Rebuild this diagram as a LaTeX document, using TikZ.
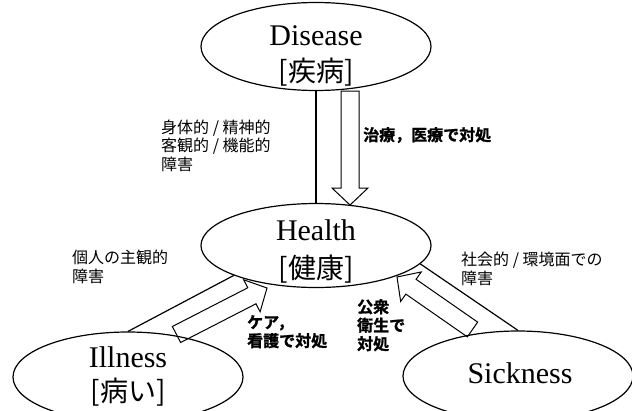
\documentclass[tikz,border=0pt]{standalone}
\usepackage{fontspec}
\setmainfont{Liberation Serif}
\newfontfamily\jp{Noto Sans CJK JP}
\newfontfamily\jpb[FakeBold=1.2]{Noto Sans CJK JP Bold}
\usetikzlibrary{shapes.geometric,calc}
\newcommand\myblockarrow[3]{%
  \coordinate (#1h) at ($(#3)!17pt!(#2)$);
  \draw[barrow] ($(#2)!9pt!90:(#3)$) -- ($(#1h)!9pt!90:(#3)$) -- ($(#1h)!18pt!90:(#3)$) -- (#3)
    -- ($(#1h)!18pt!-90:(#3)$) -- ($(#1h)!9pt!-90:(#3)$) -- ($(#2)!9pt!-90:(#3)$) -- cycle;}
\begin{document}
\begin{tikzpicture}[x=1pt,y=-1pt,
  oval/.style={ellipse, draw, line width=1.2pt, minimum width=230pt, minimum height=88pt, inner sep=0pt},
  latin/.style={font=\fontsize{30}{30}\selectfont, anchor=base, inner sep=0pt},
  kanji/.style={font=\jp\fontsize{28}{28}\selectfont, anchor=base, inner sep=0pt},
  note/.style={font=\jp\fontsize{16}{18.5}\selectfont, align=left, anchor=north west, inner sep=0pt},
  bnote/.style={font=\jpb\fontsize{16}{18.5}\selectfont, align=left, anchor=north west, inner sep=0pt},
  link/.style={line width=1.2pt},
  barrow/.style={draw, fill=white, line width=1pt, line join=miter}]
\useasboundingbox (0,0) rectangle (632,410);
% block arrow end points
\coordinate (a1s) at (350,91);
\coordinate (a1e) at (350,205);
\coordinate (a2s) at (176.5,334.5);
\coordinate (a2e) at (267,288);
\coordinate (a3s) at (472.5,329.5);
\coordinate (a3e) at (397,277);
\myblockarrow{a1}{a1s}{a1e}
\myblockarrow{a2}{a2s}{a2e}
\myblockarrow{a3}{a3s}{a3e}
% ellipses
\node[oval] (Disease) at (316,46.5) {};
\node[oval, minimum height=84pt] (Health) at (316,245.5) {};
\node[oval, minimum height=90pt] (Illness) at (128,377) {};
\node[oval, minimum height=90pt] (Sickness) at (518,376) {};
% ellipse texts
\node[latin] (DiseaseEn) at (316,45) {Disease};
\node[kanji] (DiseaseJa) at (316,81) {[疾病]};
\node[latin] (HealthEn) at (316,240) {Health};
\node[kanji] (HealthJa) at (316,278) {[健康]};
\node[latin] (IllnessEn) at (128,367) {Illness};
\node[kanji] (IllnessJa) at (128,401) {[病い]};
\node[latin] (SicknessEn) at (520,383) {Sickness};
% connectors
\draw[link] (Disease.south) -- (Health.north);
\draw[link] (Illness.north) -- (Health.200);
\draw[link] (Sickness.north) -- (Health.350);
% notes
\node[note] (t1) at (161,119.5) {身体的 / 精神的\\客観的 / 機能的\\障害};
\node[note] (t2) at (72,250) {個人の主観的\\障害};
\node[note] (t3) at (461,252) {社会的 / 環境面での\\障害};
\node[bnote] (b1) at (363,127) {治療，医療で対処};
\node[bnote] (b2) at (247,315) {ケア，\\看護で対処};
\node[bnote] (b3) at (357,299) {公衆\\衛生で\\対処};
\end{tikzpicture}
\end{document}
